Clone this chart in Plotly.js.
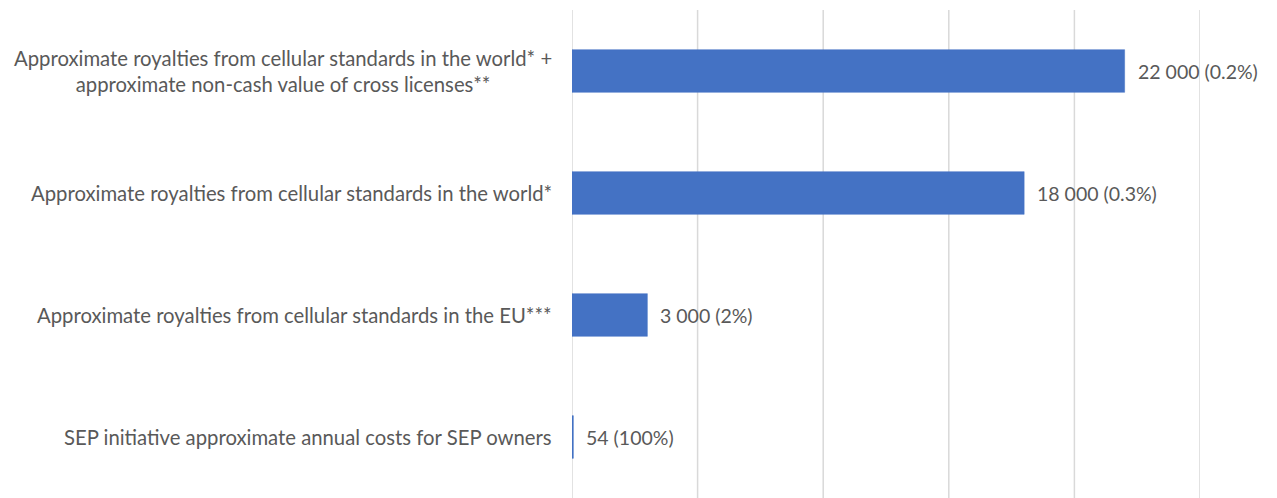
<!DOCTYPE html>
<html>
<head>
<meta charset="utf-8">
<script src="https://cdn.plot.ly/plotly-3.0.1.min.js"></script>
<style>html,body{margin:0;padding:0;background:#fff;}#chart{width:1277px;height:498px;}</style>
</head>
<body>
<div id="chart"></div>
<script>
const categories = [
  "Approximate royalties from cellular standards in the world* +<br>approximate non-cash value of cross licenses**",
  "Approximate royalties from cellular standards in the world*",
  "Approximate royalties from cellular standards in the EU***",
  "SEP initiative approximate annual costs for SEP owners"
];
const values = [22000, 18000, 3000, 54];
const valueLabels = ["22 000 (0.2%)", "18 000 (0.3%)", "3 000 (2%)", "54 (100%)"];
const xTicks = [0, 5000, 10000, 15000, 20000, 25000];

const FONT = "Lato, 'Open Sans', sans-serif";
const TXT = "#595959";

const annotations = [];
categories.forEach((c, i) => {
  annotations.push({
    xref: "paper", yref: "y", x: 0, y: c, text: c,
    xanchor: "right", yanchor: "middle", align: "center",
    xshift: -18, showarrow: false,
    font: {family: FONT, size: 20.3, color: TXT}
  });
  annotations.push({
    xref: "x", yref: "y", x: values[i], y: c, text: valueLabels[i],
    xanchor: "left", yanchor: "middle", xshift: 11, showarrow: false,
    font: {family: FONT, size: 19.5, color: TXT}
  });
});

const shapes = xTicks.map(v => ({
  type: "line", xref: "x", yref: "paper", x0: v, x1: v, y0: 0, y1: 1,
  layer: "below", line: {color: "#d9d9d9", width: 1.5}
}));

const trace = {
  type: "bar", orientation: "h",
  x: values, y: categories,
  marker: {color: "#4472C4", line: {color: "#4472C4", width: 0.5}},
  hoverinfo: "none"
};

const layout = {
  width: 1277, height: 498,
  margin: {l: 572, r: 77, t: 10, b: 0},
  paper_bgcolor: "#ffffff", plot_bgcolor: "#ffffff",
  showlegend: false,
  bargap: 0.65,
  xaxis: {
    range: [0, 25000], tickvals: xTicks, showticklabels: false,
    showgrid: false, zeroline: false, showline: false, ticks: ""
  },
  yaxis: {
    type: "category", autorange: "reversed",
    showticklabels: false, showgrid: false, zeroline: false, showline: false, ticks: ""
  },
  shapes: shapes,
  annotations: annotations
};

Plotly.newPlot("chart", [trace], layout, {displayModeBar: false, staticPlot: true});
</script>
</body>
</html>
